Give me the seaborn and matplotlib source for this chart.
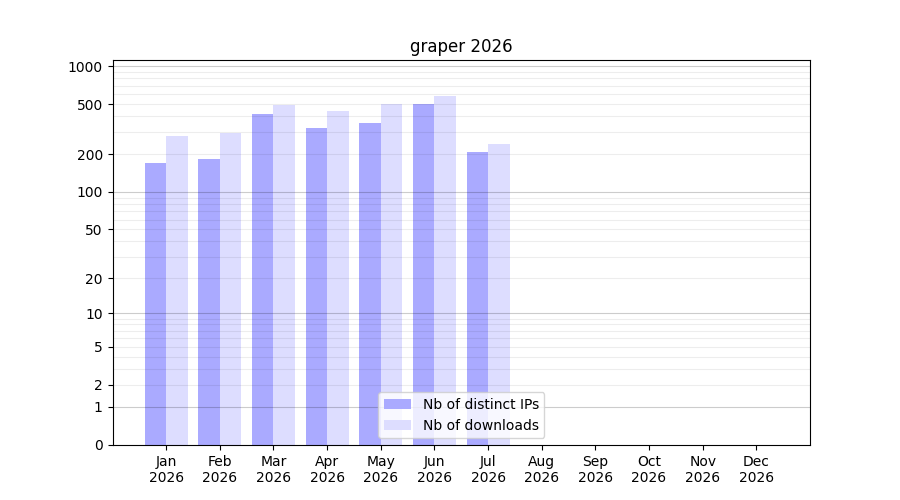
import numpy as np
import pandas as pd
import matplotlib
matplotlib.use("Agg")
import matplotlib.pyplot as plt
import seaborn as sns

months = ["Jan", "Feb", "Mar", "Apr", "May", "Jun", "Jul", "Aug", "Sep", "Oct", "Nov", "Dec"]
year = "2026"
distinct_ips = [170, 183, 417, 322, 354, 500, 208, 0, 0, 0, 0, 0]
downloads = [279, 296, 494, 441, 500, 579, 241, 0, 0, 0, 0, 0]
series_names = ["Nb of distinct IPs", "Nb of downloads"]
ytick_vals = [0, 1, 2, 5, 10, 20, 50, 100, 200, 500, 1000]

labels = [f"{m}\n{year}" for m in months]
df = pd.DataFrame({
    "month": labels * 2,
    "value": distinct_ips + downloads,
    "series": [series_names[0]] * 12 + [series_names[1]] * 12,
})

fig, ax = plt.subplots(figsize=(9, 5), dpi=100)
ax.set_yscale("function", functions=(lambda x: np.log10(1 + np.clip(x, 0, None)),
                                     lambda y: 10 ** y - 1))
sns.barplot(data=df, x="month", y="value", hue="series", order=labels,
            hue_order=series_names, palette=["#aaaaff", "#ddddff"],
            saturation=1, width=0.8, ax=ax, errorbar=None)

ax.set_xlim(-1, 12)
ax.set_ylim(0, 1117)
ax.set_yticks(ytick_vals)
ax.set_yticklabels([str(v) for v in ytick_vals])
minor = [m * d for d in (1, 10, 100) for m in range(2, 10)]
ax.set_yticks(minor, minor=True)
ax.tick_params(axis="y", which="minor", length=0)
ax.set_axisbelow(False)
for v in [1, 10, 100, 1000]:
    ax.axhline(v, color="black", alpha=0.2, lw=0.8, zorder=5)
for v in minor:
    ax.axhline(v, color="black", alpha=0.07, lw=0.8, zorder=5)

ax.set_xlabel("")
ax.set_ylabel("")
ax.set_title("graper 2026")
ax.legend(loc="lower center", title=None)
fig.savefig("out.png", dpi=100)
